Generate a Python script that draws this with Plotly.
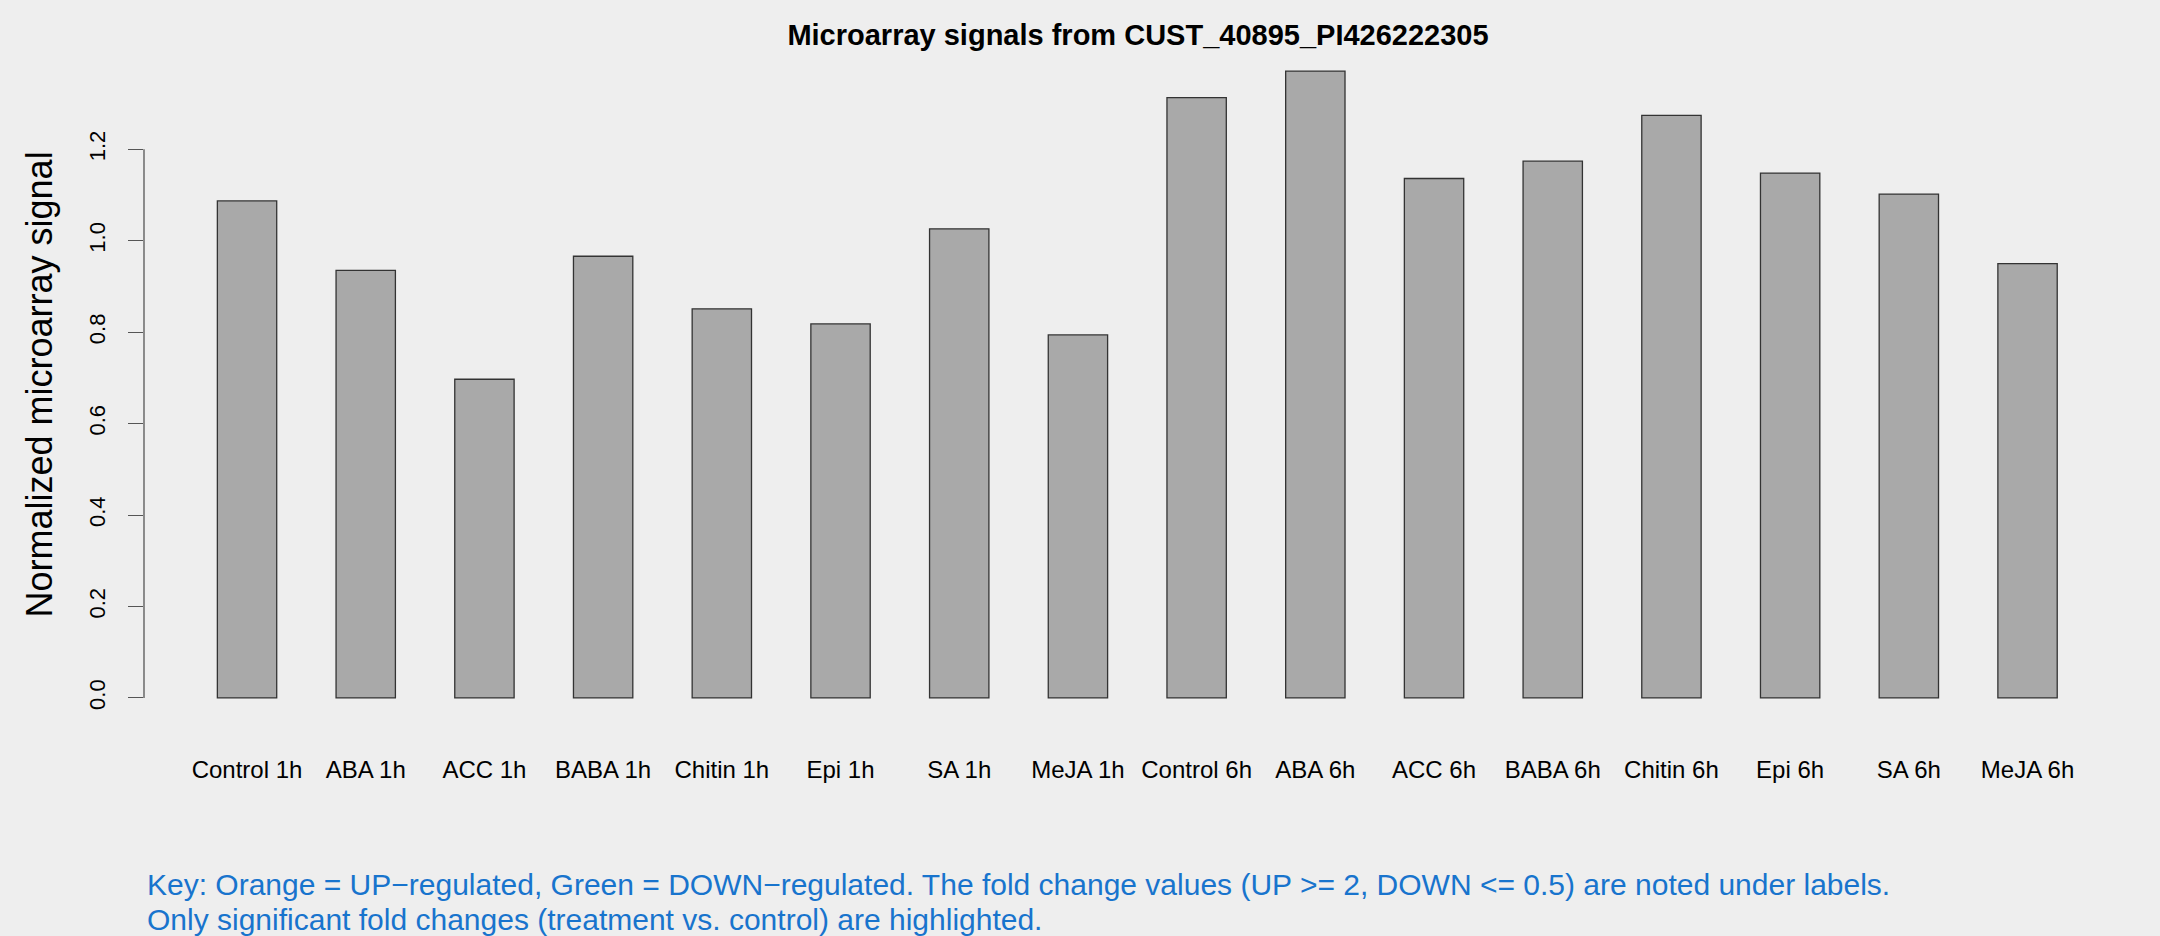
import plotly.graph_objects as go

# ---- data ----
categories = ["Control 1h", "ABA 1h", "ACC 1h", "BABA 1h", "Chitin 1h", "Epi 1h",
              "SA 1h", "MeJA 1h", "Control 6h", "ABA 6h", "ACC 6h", "BABA 6h",
              "Chitin 6h", "Epi 6h", "SA 6h", "MeJA 6h"]
signal = [1.087, 0.935, 0.697, 0.966, 0.851, 0.818, 1.026, 0.794,
          1.313, 1.371, 1.136, 1.174, 1.274, 1.148, 1.102, 0.950]
y_tick_values = [0.0, 0.2, 0.4, 0.6, 0.8, 1.0, 1.2]
y_tick_labels = ["0.0", "0.2", "0.4", "0.6", "0.8", "1.0", "1.2"]

title_text = "Microarray signals from CUST_40895_PI426222305"
y_title = "Normalized microarray signal"
key_line1 = ("Key: Orange = UP\u2212regulated, Green = DOWN\u2212regulated. "
             "The fold change values (UP >= 2, DOWN <= 0.5) are noted under labels.")
key_line2 = "Only significant fold changes (treatment vs. control) are highlighted."

# ---- layout geometry ----
W, H = 2160, 936
ML, MR, MT, MB = 144, 28, 46, 213
FONT = "Liberation Sans, Arial, Helvetica, sans-serif"
BG = "#EEEEEE"
plot_w = W - ML - MR
plot_h = H - MT - MB

fig = go.Figure()
fig.add_trace(go.Bar(
    x=list(range(len(categories))),
    y=signal,
    width=0.5,
    marker=dict(color="#A9A9A9", line=dict(color="#333333", width=1.3)),
    hoverinfo="skip",
))

ymax = max(signal)
fig.update_layout(
    width=W, height=H,
    margin=dict(l=ML, r=MR, t=MT, b=MB, pad=0),
    paper_bgcolor=BG, plot_bgcolor=BG,
    showlegend=False,
    font=dict(family=FONT, color="black"),
    title=dict(text=title_text, x=0.5, xref="paper", xanchor="center",
               y=1 - 35 / H, yref="container", yanchor="middle",
               font=dict(family=FONT, size=29, color="black", weight="bold")),
    xaxis=dict(
        range=[-0.868, len(categories) - 1 + 0.88],
        tickmode="array", tickvals=list(range(len(categories))), ticktext=categories,
        showline=False, showgrid=False, zeroline=False,
        ticks="", ticklabelstandoff=30,
        tickfont=dict(family=FONT, size=24, color="black"),
    ),
    yaxis=dict(
        range=[-0.04 * ymax, 1.04 * ymax],
        tickmode="array", tickvals=y_tick_values, ticktext=y_tick_labels,
        showline=False, showgrid=False, zeroline=False,
        ticks="outside", ticklen=15, tickwidth=1.3, tickcolor="#555555",
        tickangle=-90, ticklabelstandoff=14,
        tickfont=dict(family=FONT, size=22, color="black"),
    ),
)

# y axis line limited to tick range (like base R axis)
fig.add_shape(type="line", xref="paper", yref="y",
              x0=0, x1=0, y0=y_tick_values[0], y1=y_tick_values[-1],
              line=dict(color="#555555", width=1.3))

# y axis title
fig.add_annotation(text=y_title, textangle=-90, showarrow=False,
                   xref="paper", yref="paper",
                   x=(39 - ML) / plot_w, y=0.5,
                   xanchor="center", yanchor="middle",
                   font=dict(family=FONT, size=36, color="black"))

# footnote
for txt, ypx in [(key_line1, 884), (key_line2, 919)]:
    fig.add_annotation(text=txt, showarrow=False,
                       xref="paper", yref="paper",
                       x=(145 - ML) / plot_w, y=(H - MB - ypx) / plot_h,
                       xanchor="left", yanchor="middle",
                       font=dict(family=FONT, size=30, color="#1874CD"))

fig.write_html("out.html",
               config={"displayModeBar": False},
               post_script="document.body.style.margin='0';document.body.style.background='#EEEEEE';")
